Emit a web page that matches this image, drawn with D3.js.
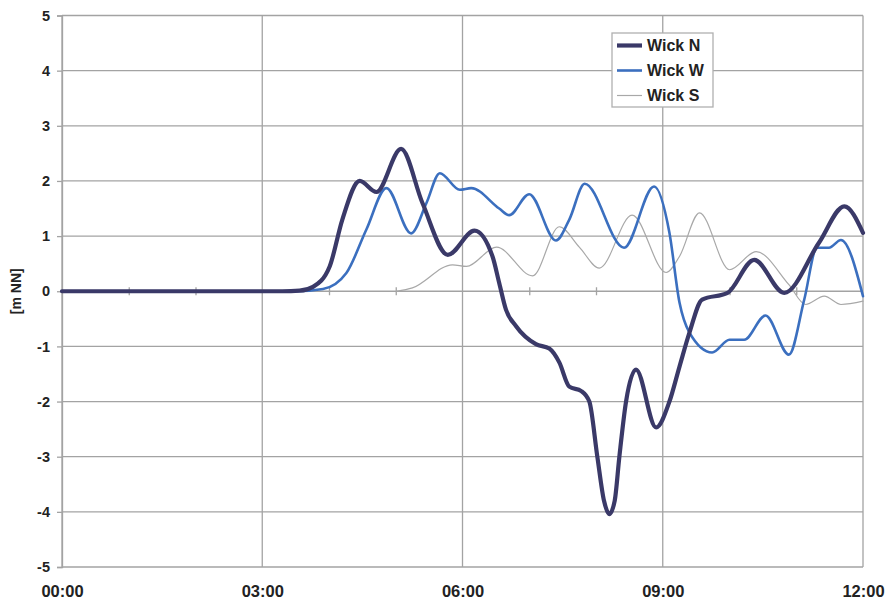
<!DOCTYPE html>
<html>
<head>
<meta charset="utf-8">
<script src="https://cdn.jsdelivr.net/npm/d3@7"></script>
<style>
  html, body { margin: 0; padding: 0; background: #fff; }
  svg { display: block; }
  text { font-family: Arial, "Liberation Sans", sans-serif; font-weight: bold; fill: #222; }
</style>
</head>
<body>
<svg id="chart" width="889" height="604"></svg>
<script>
// ---- data (hours since 00:00, water level in m NN) ----
const seriesNames = ["Wick N", "Wick W", "Wick S"];
const hoursN = [0, 3.3, 3.56, 3.76, 4.01, 4.20, 4.46, 4.71, 5.08, 5.40, 5.78, 6.18, 6.45, 6.55, 6.65, 6.80, 7.10, 7.30, 7.45, 7.60, 7.78, 7.90, 8.02, 8.12, 8.20, 8.28, 8.35, 8.45, 8.60, 8.90, 9.10, 9.25, 9.40, 9.59, 9.97, 10.37, 10.82, 11.34, 11.72, 12.0];
const valuesN = [0, 0, 0.01, 0.08, 0.45, 1.3, 2.0, 1.8, 2.58, 1.6, 0.66, 1.1, 0.63, 0.15, -0.33, -0.63, -0.96, -1.04, -1.29, -1.73, -1.81, -2.0, -3.0, -3.8, -4.04, -3.8, -3.0, -2.0, -1.42, -2.47, -2.0, -1.37, -0.75, -0.15, -0.03, 0.57, -0.03, 0.88, 1.54, 1.06];
const hoursW = [0, 3.5, 3.91, 4.26, 4.56, 4.86, 5.23, 5.46, 5.66, 5.96, 6.13, 6.55, 6.70, 7.00, 7.40, 7.60, 7.83, 8.42, 8.87, 9.10, 9.25, 9.40, 9.74, 10.0, 10.22, 10.54, 10.89, 11.12, 11.31, 11.49, 11.67, 12.0];
const valuesW = [0, 0, 0.04, 0.33, 1.12, 1.87, 1.05, 1.6, 2.14, 1.84, 1.87, 1.5, 1.38, 1.76, 0.92, 1.3, 1.95, 0.79, 1.9, 1.06, -0.2, -0.75, -1.11, -0.88, -0.88, -0.44, -1.15, -0.15, 0.79, 0.79, 0.93, -0.09];
const hoursS = [5.01, 5.25, 5.85, 6.06, 6.51, 7.05, 7.45, 7.75, 8.05, 8.54, 9.05, 9.25, 9.55, 10.0, 10.4, 10.89, 11.14, 11.42, 11.67, 12.0];
const valuesS = [0, 0.06, 0.48, 0.45, 0.8, 0.28, 1.17, 0.8, 0.42, 1.38, 0.34, 0.63, 1.42, 0.39, 0.72, 0.12, -0.24, -0.09, -0.24, -0.18];
const xTickHours = [0, 3, 6, 9, 12];
const xTickLabels = ["00:00", "03:00", "06:00", "09:00", "12:00"];
const minorTickHours = [1, 2, 4, 5, 7, 8, 10, 11];
const yTicks = [-5, -4, -3, -2, -1, 0, 1, 2, 3, 4, 5];
const yLabel = "[m NN]";

// ---- layout ----
const svg = d3.select("#chart");
const mLeft = 62, mRight = 863, mTop = 15.5, mBottom = 567;
const x = d3.scaleLinear().domain([0, 12]).range([mLeft, mRight]);
const y = d3.scaleLinear().domain([-5, 5]).range([mBottom, mTop]);
const gridColor = "#a3a3a3";
const colors = ["#3a3968", "#3b6fbf", "#a8a8a8"];
const widths = [4.2, 2.6, 1.2];

// horizontal grid
svg.append("g").selectAll("line").data(yTicks).join("line")
  .attr("x1", mLeft).attr("x2", mRight)
  .attr("y1", d => y(d)).attr("y2", d => y(d))
  .attr("stroke", gridColor).attr("stroke-width", 1.3);

// vertical grid
svg.append("g").selectAll("line").data(xTickHours).join("line")
  .attr("x1", d => x(d)).attr("x2", d => x(d))
  .attr("y1", mTop).attr("y2", mBottom)
  .attr("stroke", gridColor).attr("stroke-width", 1.3);

// y axis
const yAxis = d3.axisLeft(y).tickValues(yTicks).tickSize(5).tickPadding(7).tickFormat(d => String(d));
const gy = svg.append("g").attr("transform", `translate(${mLeft},0)`).call(yAxis);
gy.select(".domain").attr("stroke", gridColor).attr("stroke-width", 1.3);
gy.selectAll(".tick line").attr("stroke", gridColor).attr("stroke-width", 1.3);
gy.selectAll(".tick text").style("font-size", "14.5px").style("font-family", "Arial, 'Liberation Sans', sans-serif").style("font-weight", "bold").attr("fill", "#222");

// x axis along zero line with minor ticks
const xAxisZero = d3.axisBottom(x).tickValues(minorTickHours).tickSize(4).tickFormat("");
const gz = svg.append("g").attr("transform", `translate(0,${y(0)})`).call(xAxisZero);
gz.select(".domain").remove();
gz.selectAll(".tick line").attr("stroke", gridColor).attr("stroke-width", 1.3).attr("y1", -4).attr("y2", 4);

// x tick labels
const xAxis = d3.axisBottom(x).tickValues(xTickHours).tickSize(0).tickPadding(0)
  .tickFormat((d, i) => xTickLabels[i]);
const gx = svg.append("g").attr("transform", `translate(0,${mBottom + 18})`).call(xAxis);
gx.select(".domain").remove();
gx.selectAll(".tick text").style("font-size", "16.5px").style("font-family", "Arial, 'Liberation Sans', sans-serif").style("font-weight", "bold").attr("fill", "#222");

// y label
svg.append("text")
  .attr("transform", `translate(21,${y(0)}) rotate(-90)`)
  .attr("text-anchor", "middle")
  .style("font-size", "14px")
  .text(yLabel);

// lines
const line = d3.line().x(d => x(d[0])).y(d => y(d[1])).curve(d3.curveMonotoneX);
const seriesData = [
  d3.zip(hoursN, valuesN),
  d3.zip(hoursW, valuesW),
  d3.zip(hoursS, valuesS)
];
[2, 1, 0].forEach(i => {
  svg.append("path").datum(seriesData[i])
    .attr("d", line)
    .attr("fill", "none")
    .attr("stroke", colors[i])
    .attr("stroke-width", widths[i])
    .attr("stroke-linejoin", "round")
    .attr("stroke-linecap", "round");
});

// legend
const lg = svg.append("g").attr("transform", "translate(612,33)");
lg.append("rect").attr("width", 101).attr("height", 74)
  .attr("fill", "#fff").attr("stroke", "#b0b0b0").attr("stroke-width", 1.3);
seriesNames.forEach((name, i) => {
  const cy = 12.5 + i * 25;
  lg.append("line").attr("x1", 5).attr("x2", 30).attr("y1", cy).attr("y2", cy)
    .attr("stroke", colors[i]).attr("stroke-width", widths[i]);
  lg.append("text").attr("x", 35).attr("y", cy).attr("dy", "0.36em")
    .style("font-size", "16px").text(name);
});
</script>
</body>
</html>
